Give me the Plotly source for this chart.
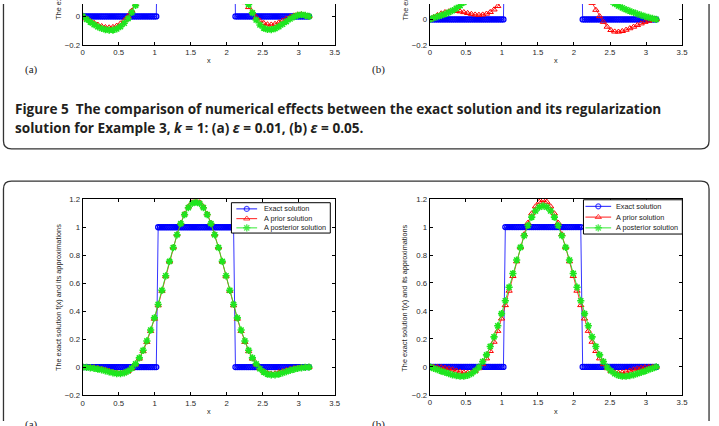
import numpy as np
import plotly.graph_objects as go

W, H = 719, 426

# ---------------- data ----------------
X_TICKS = [0, 0.5, 1, 1.5, 2, 2.5, 3, 3.5]
X_TICKTEXT = ["0", "0.5", "1", "1.5", "2", "2.5", "3", "3.5"]
Y_TICKS = [-0.2, 0, 0.2, 0.4, 0.6, 0.8, 1, 1.2]
Y_TICKTEXT = ["\u22120.2", "0", "0.2", "0.4", "0.6", "0.8", "1", "1.2"]

X_APPROX = np.linspace(0, np.pi, 61)
X_EXACT = np.linspace(0, np.pi, 121)
EXACT = [0.0] * 40 + [1.0] * 41 + [0.0] * 40

# Figure 5 (a), top-left
TL_PRIOR = [0.000, -0.016, -0.032, -0.046, -0.059, -0.069, -0.076, -0.078, -0.075, -0.066,
            -0.050, -0.028, 0.002, 0.040, 0.085, 0.140, 0.200, 0.270, 0.350, 0.440,
            0.530, 0.620, 0.710, 0.800, 0.890, 0.970, 1.040, 1.100, 1.150, 1.180,
            1.190, 1.150, 1.090, 1.010, 0.920, 0.810, 0.700, 0.590, 0.480, 0.380,
            0.290, 0.210, 0.150, 0.100, 0.065, 0.028, -0.005, -0.030, -0.047, -0.056,
            -0.058, -0.053, -0.043, -0.030, -0.016, -0.004, 0.006, 0.013, 0.015, 0.010,
            0.000]
TL_POST = [0.000, -0.020, -0.040, -0.058, -0.073, -0.085, -0.093, -0.097, -0.096, -0.088,
           -0.072, -0.048, -0.015, 0.028, 0.078, 0.135, 0.200, 0.270, 0.350, 0.440,
           0.530, 0.620, 0.710, 0.800, 0.890, 0.970, 1.040, 1.100, 1.140, 1.170,
           1.180, 1.150, 1.100, 1.030, 0.950, 0.860, 0.760, 0.660, 0.560, 0.470,
           0.380, 0.300, 0.220, 0.150, 0.085, 0.025, -0.025, -0.060, -0.082, -0.092,
           -0.093, -0.086, -0.072, -0.055, -0.036, -0.018, -0.003, 0.008, 0.012, 0.008,
           0.000]
# Figure 5 (b), top-right
TR_PRIOR = [0.000, 0.018, 0.034, 0.047, 0.057, 0.063, 0.066, 0.066, 0.063, 0.057,
            0.050, 0.043, 0.038, 0.036, 0.038, 0.045, 0.058, 0.078, 0.105, 0.140,
            0.190, 0.260, 0.350, 0.450, 0.560, 0.680, 0.800, 0.910, 1.000, 1.070,
            1.100, 1.100, 1.070, 1.010, 0.930, 0.830, 0.720, 0.610, 0.500, 0.400,
            0.310, 0.240, 0.180, 0.130, 0.075, 0.025, -0.020, -0.058, -0.084, -0.096,
            -0.097, -0.092, -0.082, -0.070, -0.058, -0.045, -0.032, -0.020, -0.011, -0.004,
            0.000]
TR_POST = [0.000, 0.012, 0.022, 0.032, 0.043, 0.055, 0.070, 0.088, 0.110, 0.135,
           0.165, 0.200, 0.240, 0.290, 0.340, 0.400, 0.460, 0.520, 0.580, 0.640,
           0.700, 0.760, 0.810, 0.860, 0.900, 0.940, 0.970, 0.990, 1.010, 1.020,
           1.020, 1.020, 1.010, 0.990, 0.960, 0.920, 0.870, 0.810, 0.740, 0.660,
           0.580, 0.500, 0.420, 0.350, 0.290, 0.240, 0.200, 0.170, 0.145, 0.125,
           0.107, 0.092, 0.078, 0.066, 0.055, 0.044, 0.034, 0.025, 0.016, 0.008,
           0.000]
# next figure (a), bottom-left
BL_PRIOR = [0.000, -0.000, -0.001, -0.003, -0.007, -0.012, -0.019, -0.027, -0.035, -0.040,
            -0.042, -0.040, -0.029, -0.010, 0.019, 0.060, 0.113, 0.179, 0.257, 0.345,
            0.441, 0.544, 0.649, 0.754, 0.855, 0.948, 1.030, 1.097, 1.147, 1.178,
            1.188, 1.178, 1.147, 1.097, 1.030, 0.948, 0.855, 0.754, 0.649, 0.544,
            0.441, 0.345, 0.257, 0.179, 0.113, 0.060, 0.019, -0.010, -0.031, -0.043,
            -0.047, -0.045, -0.038, -0.030, -0.022, -0.014, -0.008, -0.004, -0.001, 0.000,
            0.000]
BL_POST = [0.000, -0.002, -0.005, -0.009, -0.014, -0.020, -0.027, -0.035, -0.041, -0.046,
           -0.046, -0.042, -0.029, -0.008, 0.023, 0.066, 0.120, 0.187, 0.265, 0.352,
           0.448, 0.549, 0.653, 0.756, 0.855, 0.946, 1.026, 1.091, 1.140, 1.170,
           1.180, 1.170, 1.140, 1.091, 1.026, 0.946, 0.855, 0.756, 0.653, 0.549,
           0.448, 0.352, 0.265, 0.187, 0.120, 0.066, 0.023, -0.012, -0.036, -0.050,
           -0.056, -0.056, -0.050, -0.042, -0.033, -0.024, -0.016, -0.010, -0.005, -0.002,
           0.000]
# next figure (b), bottom-right
BR_PRIOR = [0.000, -0.000, -0.001, -0.003, -0.007, -0.012, -0.019, -0.027, -0.035, -0.040,
            -0.042, -0.040, -0.029, -0.010, 0.019, 0.060, 0.113, 0.179, 0.257, 0.345,
            0.441, 0.544, 0.649, 0.754, 0.855, 0.948, 1.030, 1.097, 1.147, 1.180,
            1.192, 1.180, 1.147, 1.097, 1.030, 0.948, 0.855, 0.754, 0.649, 0.544,
            0.441, 0.345, 0.257, 0.179, 0.113, 0.060, 0.019, -0.010, -0.029, -0.040,
            -0.042, -0.040, -0.035, -0.027, -0.019, -0.012, -0.007, -0.003, -0.001, -0.000,
            0.000]
BR_POST = [0.000, -0.010, -0.020, -0.030, -0.039, -0.048, -0.057, -0.063, -0.067, -0.067,
           -0.061, -0.049, -0.029, -0.001, 0.038, 0.086, 0.146, 0.215, 0.294, 0.381,
           0.473, 0.570, 0.668, 0.764, 0.855, 0.938, 1.011, 1.071, 1.115, 1.142,
           1.151, 1.142, 1.115, 1.071, 1.011, 0.938, 0.855, 0.764, 0.668, 0.570,
           0.473, 0.381, 0.294, 0.215, 0.146, 0.086, 0.038, -0.001, -0.029, -0.049,
           -0.061, -0.067, -0.067, -0.063, -0.057, -0.048, -0.039, -0.030, -0.020, -0.010,
           0.000]

LEGEND_NAMES = ["Exact solution", "A prior solution", "A posterior solution"]
PANEL_LABELS = ["(a)", "(b)"]
Y_TITLE = "The exact solution f(x) and its approximations"
X_TITLE = "x"
CAPTION_1 = "<b>Figure 5&nbsp;&nbsp;The comparison of numerical effects between the exact solution and its regularization</b>"
CAPTION_2 = "<b>solution for Example 3, <i>k</i> = 1: (a) <i>\u03b5</i> = 0.01, (b) <i>\u03b5</i> = 0.05.</b>"

# ---------------- styles ----------------
BLUE, RED, GREEN = "#0000ff", "#ff0000", "#1ee61e"
TICKFONT = dict(family="Liberation Sans, Arial, sans-serif", size=7.8, color="#2a2a2a")
SMALLFONT = dict(family="Liberation Sans, Arial, sans-serif", size=7.3, color="#222222")
SERIF = dict(family="Liberation Serif, DejaVu Serif, serif", size=11, color="#222222")
CAPFONT = dict(family="Open Sans, Noto Sans, sans-serif", size=13.6, color="#231f20")


def fx(x):
    return x / W


def fy(y):
    return 1 - y / H


panels = [
    dict(ax="", x0=81.7, x1=336.5, y0=0.0, y1=41.7, yr=[-0.2, 0.0876], full=False,
         prior=TL_PRIOR, post=TL_POST),
    dict(ax="2", x0=432.7, x1=687.7, y0=0.0, y1=41.7, yr=[-0.2, 0.122], full=False,
         prior=TR_PRIOR, post=TR_POST),
    dict(ax="3", x0=81.7, x1=336.5, y0=199.5, y1=399.5, yr=[-0.2, 1.2], full=True,
         prior=BL_PRIOR, post=BL_POST),
    dict(ax="4", x0=432.7, x1=687.7, y0=199.3, y1=399.3, yr=[-0.2, 1.2], full=True,
         prior=BR_PRIOR, post=BR_POST),
]

fig = go.Figure()
layout = dict(
    width=W, height=H, autosize=False,
    margin=dict(l=0, r=0, t=0, b=0, pad=0),
    paper_bgcolor="white", plot_bgcolor="rgba(0,0,0,0)",
    showlegend=False,
)

for p in panels:
    xa, ya = "x" + p["ax"], "y" + p["ax"]
    fig.add_trace(go.Scatter(
        x=X_EXACT, y=EXACT, mode="lines+markers", xaxis=xa, yaxis=ya,
        line=dict(color=BLUE, width=0.8),
        marker=dict(symbol="circle-open", size=5, color=BLUE, line=dict(color=BLUE, width=1.3)),
        hoverinfo="skip"))
    fig.add_trace(go.Scatter(
        x=X_APPROX, y=p["prior"], mode="lines+markers", xaxis=xa, yaxis=ya,
        line=dict(color=RED, width=0.8),
        marker=dict(symbol="triangle-up-open", size=5.5, color=RED, line=dict(color=RED, width=1)),
        hoverinfo="skip"))
    fig.add_trace(go.Scatter(
        x=X_APPROX, y=p["post"], mode="lines+markers", xaxis=xa, yaxis=ya,
        line=dict(color=GREEN, width=0.9),
        marker=dict(symbol="asterisk-open", size=6, color=GREEN, line=dict(color=GREEN, width=1.6)),
        hoverinfo="skip"))

    common = dict(ticks="inside", ticklen=3, tickwidth=0.8, tickcolor="black",
                  showline=True, linecolor="black", linewidth=1.3,
                  showgrid=False, zeroline=False, tickfont=TICKFONT, fixedrange=True)
    layout["xaxis" + p["ax"]] = dict(
        domain=[fx(p["x0"]), fx(p["x1"])], range=[0, 3.5], anchor=ya,
        tickmode="array", tickvals=X_TICKS, ticktext=X_TICKTEXT,
        mirror="ticks" if p["full"] else False, **common)
    layout["yaxis" + p["ax"]] = dict(
        domain=[fy(p["y1"]), fy(p["y0"])], range=p["yr"], anchor=xa,
        tickmode="array", tickvals=Y_TICKS, ticktext=Y_TICKTEXT,
        mirror="ticks", **common)

# overlay in pixel coordinates for page furniture and hand-made legends
layout["xaxis5"] = dict(domain=[0, 1], range=[0, W], anchor="y5", visible=False, fixedrange=True)
layout["yaxis5"] = dict(domain=[0, 1], range=[H, 0], anchor="x5", visible=False, fixedrange=True)

legends = [
    dict(box=(232, 203, 332, 234), line=(237, 258), text_x=263, rows=[209.3, 219.3, 228.7]),
    dict(box=(588, 200, 688, 235), line=(590, 616), text_x=619, rows=[206.7, 217.7, 228.7]),
]
annotations = []
glyphs = [
    (BLUE, "circle-open", 5, 1.2),
    (RED, "triangle-up-open", 5.5, 1.0),
    (GREEN, "asterisk-open", 6, 1.5),
]
for lg in legends:
    bx0, by0, bx1, by1 = lg["box"]
    fig.add_trace(go.Scatter(
        x=[bx0, bx1, bx1, bx0, bx0], y=[by0, by0, by1, by1, by0], mode="lines",
        fill="toself", fillcolor="white", line=dict(color="black", width=1),
        xaxis="x5", yaxis="y5", hoverinfo="skip"))
    lx0, lx1 = lg["line"]
    for (col, sym, size, lw), yy, name in zip(glyphs, lg["rows"], LEGEND_NAMES):
        fig.add_trace(go.Scatter(
            x=[lx0, (lx0 + lx1) / 2, lx1], y=[yy, yy, yy], mode="lines+markers",
            line=dict(color=col, width=0.9),
            marker=dict(symbol=sym, size=[0, size, 0], color=col, line=dict(color=col, width=lw)),
            xaxis="x5", yaxis="y5", hoverinfo="skip"))
        annotations.append(dict(
            text=name, x=fx(lg["text_x"]), y=fy(yy), xref="paper", yref="paper",
            xanchor="left", yanchor="middle", showarrow=False, font=SMALLFONT))

# axis titles
for cx, cy in [(209.3, 58), (560, 58), (209.3, 416.7), (560, 416.7)]:
    annotations.append(dict(text=X_TITLE, x=fx(cx), y=fy(cy), xref="paper", yref="paper",
                            xanchor="center", yanchor="middle", showarrow=False, font=SMALLFONT))
for cx in [57, 407.5]:
    annotations.append(dict(text=Y_TITLE, x=fx(cx), y=fy(300), xref="paper", yref="paper",
                            textangle=-90, xanchor="center", yanchor="middle",
                            showarrow=False, font=SMALLFONT))
    annotations.append(dict(text=Y_TITLE, x=fx(cx), y=fy(18.3), xref="paper", yref="paper",
                            textangle=-90, xanchor="center", yanchor="bottom",
                            showarrow=False, font=SMALLFONT))

# panel letters
for (cx, cy), lab in zip([(30, 66.5), (381, 66.5), (30, 430), (381, 430)], PANEL_LABELS * 2):
    annotations.append(dict(text=lab, x=fx(cx), y=fy(cy), xref="paper", yref="paper",
                            xanchor="center", yanchor="middle", showarrow=False, font=SERIF))

# caption
annotations.append(dict(text=CAPTION_1, x=fx(11), y=fy(107), xref="paper", yref="paper",
                        xanchor="left", yanchor="middle", showarrow=False, font=CAPFONT))
annotations.append(dict(text=CAPTION_2, x=fx(11), y=fy(126), xref="paper", yref="paper",
                        xanchor="left", yanchor="middle", showarrow=False, font=CAPFONT))

r = 8
L, R = 1.5, 715
B1 = 148
T2 = 181
shapes = [
    dict(type="path", xref="x5", yref="y5", layer="below",
         path=f"M {L},-10 L {L},{B1 - r} Q {L},{B1} {L + r},{B1} L {R - r},{B1} Q {R},{B1} {R},{B1 - r} L {R},-10",
         line=dict(color="#333333", width=1.3)),
    dict(type="path", xref="x5", yref="y5", layer="below",
         path=f"M {L},{H + 10} L {L},{T2 + r} Q {L},{T2} {L + r},{T2} L {R - r},{T2} Q {R},{T2} {R},{T2 + r} L {R},{H + 10}",
         line=dict(color="#333333", width=1.3)),
]

layout["annotations"] = annotations
layout["shapes"] = shapes
fig.update_layout(**layout)
fig.write_html("out.html")
